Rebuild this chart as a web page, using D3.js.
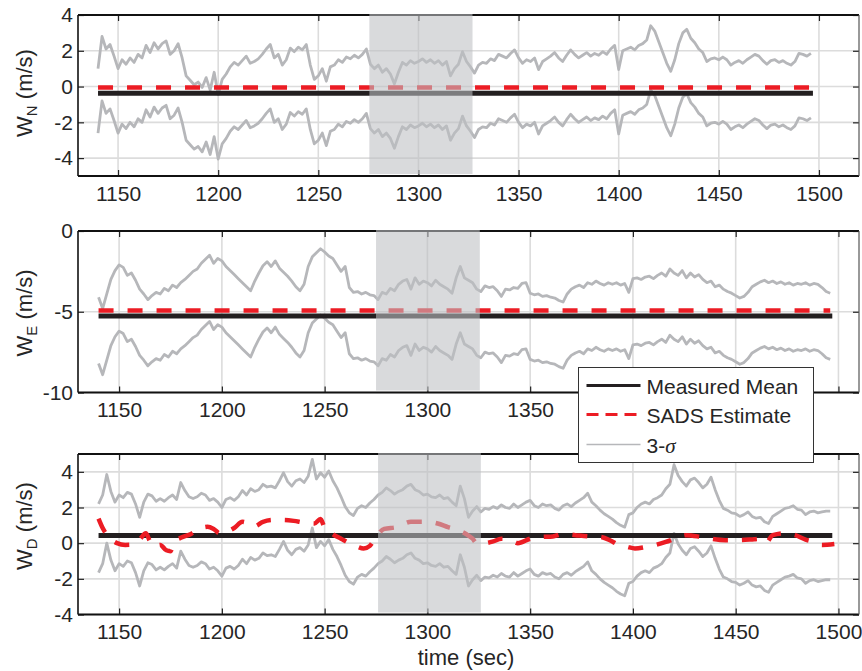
<!DOCTYPE html>
<html>
<head>
<meta charset="utf-8">
<script src="https://cdn.jsdelivr.net/npm/d3@7"></script>
<style>
    body { margin: 0; background: #fff; }
    text { font-family: "Liberation Sans", Arial, Helvetica, sans-serif; fill: #262626; }
</style>
</head>
<body>
<svg id="chart" width="862" height="671"></svg>
<script>
// sample times of the 3-sigma bounds: every 2 s from 1140
const t0 = 1140, dt = 2;

// upper 3-sigma bound, north
const upperN = [
    1.0, 2.8, 2.1, 2.35, 1.7, 1.0, 1.5, 1.25, 1.6, 1.35,
    1.8, 1.6, 2.3, 1.9, 2.45, 2.1, 2.4, 2.55, 1.8, 2.0,
    2.4, 1.6, 0.6, 0.35, 0.1, 0.25, -0.05, 0.5, -0.2, 0.8,
    -0.45, 0.4, 0.7, 1.1, 1.35, 1.2, 1.45, 1.7, 1.3, 1.4,
    1.55, 1.8, 2.1, 2.35, 1.6, 1.8, 1.2, 1.5, 2.15, 1.95,
    2.2, 2.05, 2.35, 1.2, 0.4, 0.6, 1.0, 0.3, 1.1, 1.2,
    1.5, 1.35, 1.65, 1.55, 1.75, 1.6, 1.8, 2.1, 1.25, 1.0,
    1.2, 0.8, 1.0, 0.7, 0.15, 0.8, 1.35, 1.2, 1.45, 1.3,
    1.4, 1.55, 1.35, 1.5, 1.3, 1.45, 1.2, 1.4, 0.6, 1.0,
    1.25, 1.95, 1.4, 1.1, 0.75, 1.2, 1.35, 1.3, 1.55, 1.45,
    1.8, 1.7, 1.6, 1.85, 2.05, 1.6, 1.3, 1.5, 1.4, 1.6,
    0.95, 1.4, 1.55, 1.7, 1.9, 1.6, 1.4, 1.75, 2.05, 1.8,
    1.6, 1.75, 1.9, 1.7, 1.85, 1.75, 1.95, 1.8, 2.1, 2.3,
    0.95, 2.0, 2.1, 2.2, 2.05, 2.3, 2.4, 2.6, 3.4, 3.1,
    2.5, 1.9, 1.3, 0.85, 1.5, 2.4, 3.0, 3.2, 2.7, 2.45,
    2.1, 1.9, 1.4, 1.55, 1.6, 1.5, 1.65, 1.5, 1.2, 1.35,
    1.45, 1.3, 1.5, 1.65, 1.8, 1.7, 1.45, 1.25, 1.45, 1.5,
    1.35, 1.45, 1.3, 1.2, 1.4, 1.85, 1.8, 1.7, 1.85
];

// upper 3-sigma bound, east
const upperE = [
    -4.1, -4.8, -3.9, -3.0, -2.45, -2.1, -2.25, -2.75, -2.6, -3.05,
    -3.6, -3.9, -4.25, -4.0, -3.8, -3.9, -3.55, -3.7, -3.35, -3.5,
    -3.2, -3.0, -2.75, -2.5, -2.35, -2.0, -1.75, -1.5, -2.0, -1.7,
    -1.85, -2.2, -2.45, -2.7, -2.95, -3.2, -3.45, -3.7, -3.1, -2.6,
    -2.15, -1.9, -2.2, -1.85, -2.3, -2.55, -2.8, -3.1, -3.45, -3.7,
    -3.3, -2.2, -1.6, -1.35, -1.1, -1.3, -1.55, -1.7, -2.1, -2.5,
    -2.2, -3.5, -3.8, -3.75, -3.9, -3.8, -3.95, -4.0, -4.25, -3.8,
    -3.9, -3.55, -3.7, -3.3, -3.1, -3.0, -3.6, -2.9, -3.3, -3.1,
    -3.2, -3.4, -3.05, -3.3, -3.45, -3.6, -3.85, -2.9, -2.2, -2.9,
    -3.05, -3.2, -3.6, -3.75, -3.4, -3.5, -3.45, -3.7, -4.05, -3.6,
    -3.65, -3.5, -3.55, -3.25, -3.2, -3.85, -3.95, -3.9, -4.05, -4.0,
    -4.1, -4.15, -4.3, -4.4, -3.9, -3.6, -3.45, -3.35, -3.5, -3.2,
    -3.3, -3.1, -3.25, -3.35, -3.2, -3.3, -3.2, -3.35, -3.25, -3.8,
    -2.95, -2.9, -3.0, -2.85, -2.8, -2.95, -2.75, -2.6, -2.8, -2.35,
    -2.6, -2.75, -2.45, -2.9, -2.6, -2.85, -2.7, -3.0, -3.2, -3.1,
    -3.45, -3.35, -3.6, -3.75, -3.85, -4.0, -4.15, -4.05, -3.8, -3.45,
    -3.3, -3.15, -3.05, -3.2, -3.1, -3.25, -3.15, -3.3, -3.2, -3.35,
    -3.25, -3.3, -3.2, -3.35, -3.25, -3.3, -3.5, -3.75, -3.85
];

// upper 3-sigma bound, down
const upperD = [
    2.2, 2.7, 3.85, 2.9, 2.3, 2.7, 2.55, 2.85, 2.75, 2.2,
    1.45, 2.3, 2.75, 2.65, 2.35, 2.5, 2.35, 2.55, 2.7, 2.45,
    3.4, 2.95, 2.6, 2.5, 2.6, 2.8, 2.7, 2.4, 2.5, 2.3,
    2.0, 2.45, 2.55, 2.4, 2.6, 2.95, 2.7, 3.05, 2.9, 3.0,
    3.3, 3.15, 3.2, 3.1, 3.5, 3.95, 3.45, 3.2, 3.5, 3.6,
    3.4, 3.75, 4.7, 3.6, 3.95, 3.7, 4.05, 3.5, 3.1, 2.6,
    2.05, 1.7, 1.55, 1.95, 2.1, 2.0, 2.25, 2.45, 2.7, 2.85,
    3.1, 2.95, 2.75, 2.9, 3.0, 3.2, 3.3, 3.0, 2.9, 2.7,
    2.75, 2.6, 2.55, 2.7, 2.5, 2.55, 2.3, 2.1, 3.2, 2.5,
    1.45, 1.8, 2.05, 1.75, 1.95, 1.9, 2.05, 1.95, 2.15, 2.0,
    1.95, 2.2, 2.0, 2.15, 2.3, 2.4, 2.1, 2.0, 2.2, 2.1,
    2.15, 1.95, 1.85, 2.1, 2.2, 2.05, 2.25, 2.4, 2.55, 2.8,
    2.3, 2.1, 1.85, 1.65, 1.5, 1.35, 1.15, 1.0, 0.9, 1.6,
    1.7, 2.0, 2.2, 2.3, 2.2, 2.45, 2.55, 2.7, 3.05, 3.3,
    4.4, 3.8, 3.45, 3.2, 3.55, 3.65, 3.4, 3.1, 3.3, 3.7,
    3.0, 2.4, 1.95, 1.85, 1.7, 1.65, 1.5, 1.6, 1.75, 1.5,
    1.4, 1.45, 1.2, 1.1, 1.5, 1.65, 1.8, 1.95, 2.0, 2.1,
    1.9, 1.85, 1.6, 1.75, 1.8, 1.7, 1.75, 1.8, 1.8
];

// distance between upper and lower 3-sigma bound (m/s)
const bandWidth = [3.6, 4.1, 3.85];

// measured mean, drawn from 1140 to 1497
const meanVals = [-0.37, -5.27, 0.43];
const meanSpan = [1140, 1497];

// SADS estimate
const sadsTimeN = [1140, 1499];
const sadsN = [-0.05, -0.05];
const sadsTimeE = [1140, 1496];
const sadsE = [-4.93, -4.93];
const sadsTimeD = [1140, 1142, 1145, 1149, 1153, 1157, 1160, 1163, 1165, 1167,
    1170, 1173, 1175, 1177, 1180, 1185, 1189, 1193, 1196, 1199,
    1202, 1206, 1210, 1213, 1216, 1220, 1225, 1230, 1235, 1240,
    1245, 1248, 1250, 1254, 1258, 1262, 1266, 1269, 1272, 1275,
    1279, 1285, 1292, 1300, 1305, 1310, 1315, 1319, 1322, 1324,
    1328, 1332, 1336, 1341, 1344, 1350, 1355, 1361, 1366, 1372,
    1378, 1384, 1389, 1393, 1397, 1401, 1406, 1411, 1416, 1421,
    1426, 1433, 1438, 1445, 1452, 1459, 1463, 1465, 1468, 1474,
    1479, 1484, 1488, 1492, 1498];
const sadsD = [1.38, 0.85, 0.35, 0.0, -0.1, -0.08, 0.2, 0.55, 0.1, -0.2,
    -0.1, -0.4, -0.45, 0.1, 0.3, 0.52, 0.8, 0.92, 0.8, 0.55,
    0.62, 0.85, 1.2, 1.1, 0.95, 1.2, 1.3, 1.3, 1.25, 1.15,
    1.1, 1.35, 0.85, 0.5, 0.25, 0.0, -0.2, -0.3, -0.15, 0.35,
    0.8, 0.9, 1.2, 1.2, 1.1, 0.9, 0.72, 0.5, 0.25, 0.0,
    0.0, 0.1, 0.25, 0.15, 0.0, 0.25, 0.35, 0.38, 0.52, 0.45,
    0.38, 0.35, 0.15, -0.1, -0.2, -0.3, -0.22, -0.1, 0.07, 0.28,
    0.45, 0.35, 0.25, 0.17, 0.17, 0.22, 0.25, 0.05, 0.45, 0.55,
    0.45, 0.2, 0.07, -0.1, -0.05];

// shaded time window in each panel
const shadeWin = [[1275.5, 1327], [1275, 1325.5], [1276, 1326]];

const xTicks = [1150, 1200, 1250, 1300, 1350, 1400, 1450, 1500];
// tick labels shown per panel (middle panel's right labels sit under the legend)
const xTickLabels = [
    [1150, 1200, 1250, 1300, 1350, 1400, 1450, 1500],
    [1150, 1200, 1250, 1300, 1350],
    [1150, 1200, 1250, 1300, 1350, 1400, 1450, 1500]
];
const xDomains = [[1130, 1520], [1130, 1510], [1130, 1510]];
const yDomains = [[-5, 4], [-10, 0], [-4, 5]];
const yTicks = [[-4, -2, 0, 2, 4], [-10, -5, 0], [-4, -2, 0, 2, 4]];
const subs = ['N', 'E', 'D'];
const legendLabels = ['Measured Mean', 'SADS Estimate', '3-'];

const COLORS = {
    band: '#b6b7ba',
    mean: '#231f20',
    sads: '#ec1c24',
    grid: '#dcdcdc',
    shade: '#bebfc2'
};

const svg = d3.select('#chart');
const xLeft = 78, xRight = 859;

const panels = [
    { up: upperN, sadsT: sadsTimeN, sads: sadsN, top: 15, bottom: 176, labelY: 93 },
    { up: upperE, sadsT: sadsTimeE, sads: sadsE, top: 231, bottom: 392.5, labelY: 313 },
    { up: upperD, sadsT: sadsTimeD, sads: sadsD, top: 454, bottom: 614.5, labelY: 526 }
];

panels.forEach(function (p, k) {
    const x = d3.scaleLinear().domain(xDomains[k]).range([xLeft, xRight]);
    const y = d3.scaleLinear().domain(yDomains[k]).range([p.bottom, p.top]);
    const g = svg.append('g');

    // grid
    g.selectAll('line.vgrid')
        .data(xTicks)
        .enter()
        .append('line')
        .attr('x1', d => x(d)).attr('x2', d => x(d))
        .attr('y1', p.top).attr('y2', p.bottom)
        .attr('stroke', COLORS.grid)
        .attr('stroke-width', 1.6);
    g.selectAll('line.hgrid')
        .data(yTicks[k])
        .enter()
        .append('line')
        .attr('x1', xLeft).attr('x2', xRight)
        .attr('y1', d => y(d)).attr('y2', d => y(d))
        .attr('stroke', COLORS.grid)
        .attr('stroke-width', 1.6);

    // 3-sigma bounds
    const times = p.up.map((v, i) => t0 + i * dt);
    const bandLine = d3.line().x(d => x(d[0])).y(d => y(d[1]));
    const upper = times.map((t, i) => [t, p.up[i]]);
    const lower = times.map((t, i) => [t, p.up[i] - bandWidth[k]]);
    [upper, lower].forEach(function (pts) {
        g.append('path')
            .attr('d', bandLine(pts))
            .attr('fill', 'none')
            .attr('stroke', COLORS.band)
            .attr('stroke-width', 2.8)
            .attr('stroke-linejoin', 'round');
    });

    // measured mean
    g.append('line')
        .attr('x1', x(meanSpan[0])).attr('x2', x(meanSpan[1]))
        .attr('y1', y(meanVals[k])).attr('y2', y(meanVals[k]))
        .attr('stroke', COLORS.mean)
        .attr('stroke-width', 5);

    // SADS estimate
    const sadsLine = d3.line()
        .x(d => x(d[0])).y(d => y(d[1]))
        .curve(d3.curveMonotoneX);
    g.append('path')
        .attr('d', sadsLine(p.sadsT.map((t, i) => [t, p.sads[i]])))
        .attr('fill', 'none')
        .attr('stroke', COLORS.sads)
        .attr('stroke-width', 4.5)
        .attr('stroke-dasharray', '15,14');

    // axes, MATLAB style ticks pointing inward
    const axB = g.append('g')
        .attr('transform', 'translate(0,' + p.bottom + ')')
        .call(d3.axisBottom(x).tickValues(xTicks).tickSize(-6).tickSizeOuter(0).tickPadding(10)
            .tickFormat(d => xTickLabels[k].includes(d) ? String(d) : ''));
    const axT = g.append('g')
        .attr('transform', 'translate(0,' + p.top + ')')
        .call(d3.axisTop(x).tickValues(xTicks).tickSize(-6).tickSizeOuter(0).tickFormat(''));
    const axL = g.append('g')
        .attr('transform', 'translate(' + xLeft + ',0)')
        .call(d3.axisLeft(y).tickValues(yTicks[k]).tickSize(-6).tickSizeOuter(0).tickPadding(5)
            .tickFormat(d => d < 0 ? '-' + Math.abs(d) : String(d)));
    const axR = g.append('g')
        .attr('transform', 'translate(' + xRight + ',0)')
        .call(d3.axisRight(y).tickValues(yTicks[k]).tickSize(-6).tickSizeOuter(0).tickFormat(''));
    [axB, axT, axL, axR].forEach(function (a) {
        a.select('.domain').remove();
        a.selectAll('.tick line').attr('stroke', '#222').attr('stroke-width', 1.2);
        a.selectAll('text').attr('font-size', 21).attr('fill', '#262626')
            .attr('font-family', '"Liberation Sans", Arial, sans-serif');
    });

    // box
    g.append('line').attr('x1', xLeft).attr('x2', xRight).attr('y1', p.bottom).attr('y2', p.bottom)
        .attr('stroke', '#111').attr('stroke-width', 2);
    g.append('line').attr('x1', xLeft).attr('x2', xRight).attr('y1', p.top).attr('y2', p.top)
        .attr('stroke', '#111').attr('stroke-width', 2);
    g.append('line').attr('x1', xLeft).attr('x2', xLeft).attr('y1', p.top).attr('y2', p.bottom)
        .attr('stroke', '#111').attr('stroke-width', 1.6);
    g.append('line').attr('x1', xRight).attr('x2', xRight).attr('y1', p.top).attr('y2', p.bottom)
        .attr('stroke', '#555').attr('stroke-width', 1.2);

    // shaded window, drawn over the lines
    g.append('rect')
        .attr('x', x(shadeWin[k][0]))
        .attr('y', p.top - 1)
        .attr('width', x(shadeWin[k][1]) - x(shadeWin[k][0]))
        .attr('height', p.bottom - p.top - 1)
        .attr('fill', COLORS.shade)
        .attr('fill-opacity', 0.58);

    // y label
    const lab = svg.append('text')
        .attr('transform', 'translate(32,' + p.labelY + ') rotate(-90)')
        .attr('text-anchor', 'middle')
        .attr('font-size', 22);
    lab.append('tspan').text('W');
    lab.append('tspan').attr('font-size', 15).attr('dy', 5).text(subs[k]);
    lab.append('tspan').attr('dy', -5).text(' (m/s)');
});

svg.append('text')
    .attr('x', 466).attr('y', 665)
    .attr('text-anchor', 'middle')
    .attr('font-size', 22)
    .text('time (sec)');

// legend
const lg = svg.append('g').attr('transform', 'translate(578.5,367.5)');
lg.append('rect')
    .attr('width', 235).attr('height', 95)
    .attr('fill', '#fff')
    .attr('stroke', '#333')
    .attr('stroke-width', 1);
const rowY = [18, 47, 77];
lg.append('line').attr('x1', 8).attr('x2', 62).attr('y1', rowY[0]).attr('y2', rowY[0])
    .attr('stroke', COLORS.mean).attr('stroke-width', 3);
lg.append('line').attr('x1', 8).attr('x2', 62).attr('y1', rowY[1]).attr('y2', rowY[1])
    .attr('stroke', COLORS.sads).attr('stroke-width', 3).attr('stroke-dasharray', '12,7');
lg.append('line').attr('x1', 8).attr('x2', 62).attr('y1', rowY[2]).attr('y2', rowY[2])
    .attr('stroke', COLORS.band).attr('stroke-width', 1.5);
legendLabels.forEach(function (l, i) {
    const t = lg.append('text')
        .attr('x', 68).attr('y', rowY[i] + 8)
        .attr('font-size', 21)
        .text(l);
    if (i === 2) {
        t.append('tspan')
            .attr('font-family', '"Liberation Serif", "DejaVu Serif", serif')
            .attr('font-style', 'italic')
            .text('σ');
    }
});
</script>
</body>
</html>
